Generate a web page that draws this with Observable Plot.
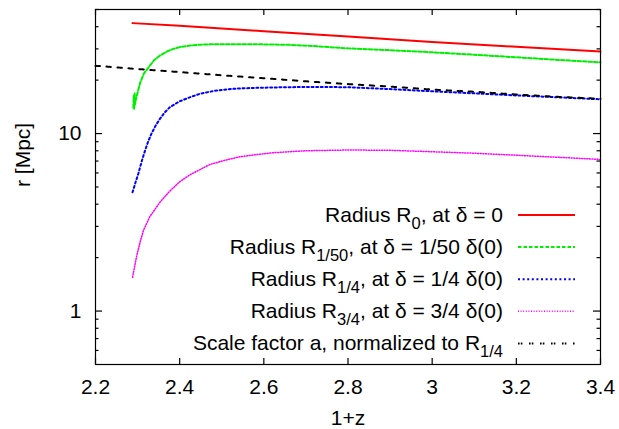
<!DOCTYPE html>
<html><head><meta charset="utf-8">
<script src="https://cdn.jsdelivr.net/npm/d3@7"></script>
<script src="https://cdn.jsdelivr.net/npm/@observablehq/plot@0.6"></script>
<style>
body{margin:0;background:#fff;}
#chart{width:619px;height:429px;}
</style>
</head><body><div id="chart"></div>
<script>
// ---- data ----
const xTicks = [2.2, 2.4, 2.6, 2.8, 3, 3.2, 3.4];
const yMajorTicks = [1, 10];
const yMinorTicks = [0.6, 0.7, 0.8, 0.9, 2, 3, 4, 5, 6, 7, 8, 9, 20, 30, 40, 50];

const r0_x = [2.288, 2.4, 2.6, 2.8, 3.0, 3.2, 3.4];
const r0_y = [41.9, 40.5, 37.7, 35.2, 32.8, 30.8, 29.0];

const r150_x = [2.290, 2.291, 2.292, 2.293, 2.294, 2.296, 2.300, 2.306, 2.315, 2.329, 2.340, 2.353, 2.370, 2.385, 2.400, 2.424, 2.450, 2.488, 2.543, 2.600, 2.662, 2.720, 2.800, 2.900, 3.000, 3.100, 3.200, 3.300, 3.400];
const r150_y = [14.0, 16.4, 13.8, 16.8, 14.6, 15.6, 17.0, 19.3, 21.8, 24.1, 26.0, 27.5, 29.0, 30.0, 30.7, 31.3, 31.7, 31.9, 31.9, 31.8, 31.6, 31.1, 30.2, 29.5, 28.7, 27.8, 26.9, 26.0, 25.2];

const r14_x = [2.288, 2.295, 2.302, 2.310, 2.318, 2.325, 2.333, 2.343, 2.353, 2.365, 2.377, 2.400, 2.424, 2.450, 2.488, 2.530, 2.583, 2.650, 2.720, 2.800, 2.900, 3.000, 3.100, 3.200, 3.300, 3.400];
const r14_y = [4.67, 5.3, 5.97, 7.0, 8.06, 9.0, 10.0, 11.1, 12.1, 13.2, 14.1, 15.2, 16.0, 16.8, 17.5, 17.9, 18.1, 18.25, 18.3, 18.25, 17.8, 17.3, 16.85, 16.4, 16.0, 15.6];

const r34_x = [2.288, 2.298, 2.306, 2.314, 2.329, 2.353, 2.375, 2.400, 2.424, 2.450, 2.472, 2.510, 2.543, 2.580, 2.622, 2.700, 2.800, 2.900, 3.000, 3.100, 3.200, 3.300, 3.400];
const r34_y = [1.55, 2.05, 2.45, 2.85, 3.4, 4.1, 4.7, 5.35, 5.85, 6.3, 6.7, 7.1, 7.4, 7.6, 7.8, 8.0, 8.08, 8.05, 7.9, 7.75, 7.55, 7.35, 7.15];

const a_x = [2.2, 2.3, 2.4, 2.5, 2.6, 2.7, 2.8, 2.9, 3.0, 3.1, 3.2, 3.3, 3.4];
const a_y = [24.1, 23.1, 22.2, 21.3, 20.5, 19.7, 19.0, 18.4, 17.7, 17.2, 16.6, 16.1, 15.7];

const seriesColors = ["#ff0000", "#00ee00", "#0000ff", "#ff00ff", "#000000"];
const seriesDash = [null, "3.5,2", "2,2.6", "1,1.6", "1.6,1.2,1.6,6.6"];
const seriesWidth = [2, 2, 2, 1.5, 2];
const legendLabels = [
  [["Radius R"], ["0", true], [", at \u03b4 = 0"]],
  [["Radius R"], ["1/50", true], [", at \u03b4 = 1/50 \u03b4(0)"]],
  [["Radius R"], ["1/4", true], [", at \u03b4 = 1/4 \u03b4(0)"]],
  [["Radius R"], ["3/4", true], [", at \u03b4 = 3/4 \u03b4(0)"]],
  [["Scale factor a, normalized to R"], ["1/4", true]]
];

(function () {
const zip = (xs, ys) => xs.map((x, i) => ({x, y: ys[i]}));
const seriesData = [zip(r0_x, r0_y), zip(r150_x, r150_y), zip(r14_x, r14_y), zip(r34_x, r34_y), zip(a_x, a_y)];

const FONT = "'Liberation Sans', Arial, Helvetica, sans-serif";
const FS = 21;
const W = 619, H = 429, ML = 95, MR = 19, MT = 9, MB = 65;
const fw = W - ML - MR, fh = H - MT - MB;

const lineMarks = seriesData.map((d, i) => Plot.line(d, {
  x: "x", y: "y", stroke: seriesColors[i], strokeWidth: seriesWidth[i],
  strokeDasharray: seriesDash[i] || undefined, curve: "linear"
}));

const tk = {stroke: "#000", strokeWidth: 1.2};
const plot = Plot.plot({
  width: W, height: H,
  marginLeft: ML, marginRight: MR, marginTop: MT, marginBottom: MB,
  style: {fontFamily: FONT, fontSize: FS + "px", color: "#000", background: "#fff", overflow: "visible"},
  x: {domain: [2.2, 3.4]},
  y: {type: "log", domain: [0.5, 50]},
  marks: [
    ...lineMarks,
    // inward ticks on all four sides (gnuplot style)
    Plot.tickX(xTicks, {x: d => d, insetTop: fh - 6, ...tk}),
    Plot.tickX(xTicks, {x: d => d, insetBottom: fh - 6, ...tk}),
    Plot.tickY(yMajorTicks, {y: d => d, insetRight: fw - 7, ...tk}),
    Plot.tickY(yMajorTicks, {y: d => d, insetLeft: fw - 7, ...tk}),
    Plot.tickY(yMinorTicks, {y: d => d, insetRight: fw - 3.5, ...tk}),
    Plot.tickY(yMinorTicks, {y: d => d, insetLeft: fw - 3.5, ...tk}),
    Plot.frame({stroke: "#000", strokeWidth: 1.2}),
    Plot.axisX({anchor: "bottom", ticks: xTicks, tickSize: 0, tickPadding: 15, tickFormat: d => String(d), label: null}),
    Plot.axisY({anchor: "left", ticks: yMajorTicks, tickSize: 0, tickPadding: 14, tickFormat: d => String(d), label: null}),
    Plot.text(["1+z"], {frameAnchor: "bottom", dy: 54, text: d => d, lineAnchor: "middle", fontSize: FS}),
    Plot.text(["r [Mpc]"], {frameAnchor: "left", dx: -72, rotate: -90, text: d => d, lineAnchor: "middle", fontSize: FS})
  ]
});
document.getElementById("chart").appendChild(plot);

// ---- legend ----
const svg = d3.select(plot);
const lg = svg.append("g").attr("font-family", FONT).attr("font-size", FS).attr("fill", "#000");
const legY0 = 215, legStep = 32.1, textRight = 503, lineX1 = 518, lineX2 = 575;
legendLabels.forEach((parts, i) => {
  const y = legY0 + i * legStep;
  const t = lg.append("text").attr("x", textRight).attr("y", y + 7).attr("text-anchor", "end");
  let shifted = false;
  parts.forEach(([s, sub]) => {
    const ts = t.append("tspan").text(s);
    if (sub && !shifted) { ts.attr("font-size", 16.5).attr("dy", 6.5); shifted = true; }
    else if (!sub && shifted) { ts.attr("dy", -6.5); shifted = false; }
  });
  const ln = lg.append("line").attr("x1", lineX1).attr("x2", lineX2).attr("y1", y).attr("y2", y)
    .attr("stroke", seriesColors[i]).attr("stroke-width", seriesWidth[i]);
  if (seriesDash[i]) ln.attr("stroke-dasharray", seriesDash[i]);
});
})();
</script></body></html>
